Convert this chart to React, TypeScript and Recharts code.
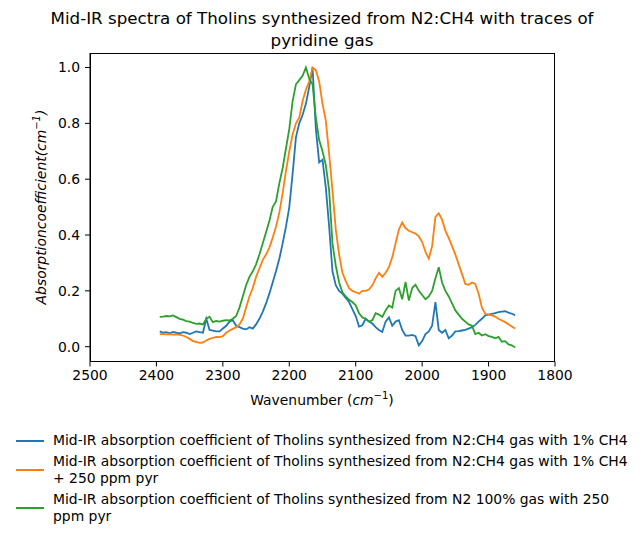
import { LineChart, Line, XAxis, YAxis } from "recharts";

const wavenumbers = [
  2395, 2390, 2385, 2380, 2375, 2370, 2365, 2360, 2355, 2350, 2345, 2340, 2335, 2330, 2325, 2320, 2315, 2310,
  2305, 2300, 2295, 2290, 2285, 2280, 2275, 2270, 2265, 2260, 2255, 2250, 2245, 2240, 2235, 2230, 2225, 2220,
  2215, 2210, 2205, 2200, 2195, 2190, 2185, 2180, 2175, 2170, 2165, 2160, 2155, 2150, 2145, 2140, 2135, 2130,
  2125, 2120, 2115, 2110, 2105, 2100, 2095, 2090, 2085, 2080, 2075, 2070, 2065, 2060, 2055, 2050, 2045, 2040,
  2035, 2030, 2025, 2020, 2015, 2010, 2005, 2000, 1995, 1990, 1985, 1980, 1975, 1970, 1965, 1960, 1955, 1950,
  1945, 1940, 1935, 1930, 1925, 1920, 1915, 1910, 1905, 1900, 1895, 1890, 1885, 1880, 1875, 1870, 1865, 1860,
];

// N2:CH4 1% CH4
const blue = [
  0.055, 0.05, 0.052, 0.048, 0.053, 0.05, 0.048, 0.052, 0.05, 0.045, 0.05, 0.055, 0.052, 0.05, 0.1, 0.06, 0.058, 0.055,
  0.055, 0.065, 0.075, 0.09, 0.095, 0.075, 0.07, 0.065, 0.062, 0.07, 0.065, 0.08, 0.1, 0.125, 0.155, 0.19, 0.23, 0.27,
  0.315, 0.37, 0.43, 0.5, 0.62, 0.75, 0.8, 0.83, 0.87, 0.93, 1.0, 0.78, 0.66, 0.67, 0.57, 0.43, 0.27, 0.22,
  0.2, 0.19, 0.175, 0.16, 0.135, 0.11, 0.072, 0.077, 0.1, 0.09, 0.083, 0.07, 0.06, 0.053, 0.09, 0.105, 0.075, 0.09,
  0.095, 0.06, 0.04, 0.04, 0.042, 0.038, 0.005, 0.02, 0.045, 0.055, 0.075, 0.16, 0.06, 0.05, 0.06, 0.03, 0.04, 0.055,
  0.056, 0.058, 0.06, 0.065, 0.07, 0.078, 0.09, 0.1, 0.112, 0.115, 0.118, 0.12, 0.124, 0.126, 0.127, 0.122, 0.118, 0.113,
];

// N2:CH4 1% CH4 + 250 ppm pyr
const orange = [
  0.045, 0.045, 0.044, 0.045, 0.043, 0.044, 0.042, 0.04, 0.035, 0.028, 0.02, 0.017, 0.014, 0.015, 0.022, 0.028, 0.032, 0.035,
  0.034, 0.038, 0.05, 0.058, 0.064, 0.07, 0.08, 0.1, 0.14, 0.18, 0.21, 0.25, 0.28, 0.31, 0.33, 0.355, 0.39, 0.43,
  0.48, 0.55, 0.63, 0.7, 0.76, 0.8, 0.82, 0.88, 0.92, 0.95, 1.0, 0.99, 0.95, 0.87, 0.81, 0.69, 0.56, 0.42,
  0.33, 0.265, 0.235, 0.21, 0.2, 0.195, 0.19, 0.2, 0.2, 0.205, 0.22, 0.245, 0.265, 0.25, 0.265, 0.285, 0.32, 0.37,
  0.42, 0.445, 0.425, 0.415, 0.41, 0.405, 0.395, 0.375, 0.34, 0.315, 0.36, 0.465, 0.478, 0.455, 0.415, 0.39, 0.36, 0.33,
  0.295, 0.26, 0.225, 0.222, 0.23, 0.225, 0.19, 0.14, 0.118, 0.115, 0.112, 0.108, 0.1, 0.094, 0.088, 0.08, 0.072, 0.065,
];

// N2 100% + 250 ppm pyr
const green = [
  0.107, 0.108, 0.11, 0.109, 0.112, 0.106, 0.1, 0.097, 0.092, 0.09, 0.085, 0.082, 0.083, 0.08, 0.1, 0.107, 0.088, 0.092,
  0.09, 0.093, 0.095, 0.094, 0.1, 0.11, 0.14, 0.18, 0.22, 0.25, 0.27, 0.295, 0.33, 0.37, 0.41, 0.45, 0.5, 0.52,
  0.585, 0.64, 0.71, 0.78, 0.88, 0.94, 0.955, 0.97, 1.0, 0.96, 0.94, 0.82, 0.74, 0.7, 0.65, 0.56, 0.37, 0.29,
  0.23, 0.195, 0.18, 0.168, 0.16, 0.148, 0.12, 0.105, 0.1, 0.09, 0.095, 0.12, 0.115, 0.107, 0.13, 0.148, 0.14, 0.2,
  0.21, 0.17, 0.232, 0.165, 0.21, 0.222, 0.2, 0.185, 0.17, 0.18, 0.2, 0.245, 0.285, 0.23, 0.2, 0.18, 0.155, 0.13,
  0.115, 0.1, 0.09, 0.08, 0.075, 0.045, 0.05, 0.04, 0.045, 0.038, 0.035, 0.03, 0.035, 0.018, 0.02, 0.008, 0.005, -0.003,
];

const xTicks = [2500, 2400, 2300, 2200, 2100, 2000, 1900, 1800];
const yTicks = [0, 0.2, 0.4, 0.6, 0.8, 1.0];

const seriesNames = [
  ["Mid-IR absorption coefficient of Tholins synthesized from N2:CH4 gas with 1% CH4"],
  ["Mid-IR absorption coefficient of Tholins synthesized from N2:CH4 gas with 1% CH4", "+ 250 ppm pyr"],
  ["Mid-IR absorption coefficient of Tholins synthesized from N2 100% gas with 250", "ppm pyr"],
];
const colors = ["#1f77b4", "#ff7f0e", "#2ca02c"];

const data = wavenumbers.map((w, i) => ({ w, blue: blue[i], orange: orange[i], green: green[i] }));

const font = "'DejaVu Sans', sans-serif";

export default function App() {
  return (
    <div style={{ position: "absolute", left: 0, top: 0, width: 644, height: 539, background: "#fff", fontFamily: font }}>
      <div style={{ position: "absolute", left: 0, width: 644, top: 7, textAlign: "center", fontSize: 16.7, lineHeight: "22px" }}>
        Mid-IR spectra of Tholins synthesized from N2:CH4 with traces of
        <br />
        pyridine gas
      </div>

      <LineChart width={644} height={539} data={data} margin={{ top: 53, right: 89, bottom: 147.5, left: 30 }}>
        <XAxis
          dataKey="w"
          type="number"
          domain={[1800, 2500]}
          reversed
          ticks={xTicks}
          allowDataOverflow
          height={30}
          tickSize={5}
          tickMargin={4}
          stroke="#000"
          tick={{ fill: "#000", fontSize: 13.9, fontFamily: font }}
        />
        <YAxis
          type="number"
          domain={[-0.053, 1.052]}
          ticks={yTicks}
          allowDataOverflow
          width={60}
          tickSize={5}
          tickMargin={5}
          stroke="#000"
          tickFormatter={(v: number) => v.toFixed(1)}
          tick={{ fill: "#000", fontSize: 13.9, fontFamily: font }}
        />
        <Line type="linear" dataKey="blue" stroke={colors[0]} strokeWidth={1.8} dot={false} isAnimationActive={false} />
        <Line type="linear" dataKey="orange" stroke={colors[1]} strokeWidth={1.8} dot={false} isAnimationActive={false} />
        <Line type="linear" dataKey="green" stroke={colors[2]} strokeWidth={1.8} dot={false} isAnimationActive={false} />
      </LineChart>

      {/* frame around the plot area */}
      <div style={{ position: "absolute", left: 90, top: 53, width: 465, height: 309, boxSizing: "border-box", border: "1px solid #000", pointerEvents: "none" }} />

      <div
        style={{
          position: "absolute",
          left: 40,
          top: 207,
          transform: "translate(-50%, -50%) rotate(-90deg)",
          whiteSpace: "nowrap",
          fontStyle: "italic",
          fontSize: 13.9,
        }}
      >
        Absorptioncoefficient(cm<sup style={{ fontSize: 10 }}>−1</sup>)
      </div>

      <div style={{ position: "absolute", left: 0, width: 644, top: 390, textAlign: "center", fontSize: 13.9, whiteSpace: "nowrap" }}>
        Wavenumber (<i>cm</i>
        <sup style={{ fontSize: 10 }}>−1</sup>)
      </div>

      <div style={{ position: "absolute", left: 16, top: 432, fontSize: 13.9, lineHeight: "17px" }}>
        {seriesNames.map((lines, i) => (
          <div key={i} style={{ display: "flex", alignItems: "center", marginBottom: 4 }}>
            <div style={{ width: 28, height: 2, background: colors[i], marginRight: 9 }} />
            <div>
              {lines.map((t, j) => (
                <div key={j} style={{ whiteSpace: "nowrap" }}>
                  {t}
                </div>
              ))}
            </div>
          </div>
        ))}
      </div>
    </div>
  );
}
